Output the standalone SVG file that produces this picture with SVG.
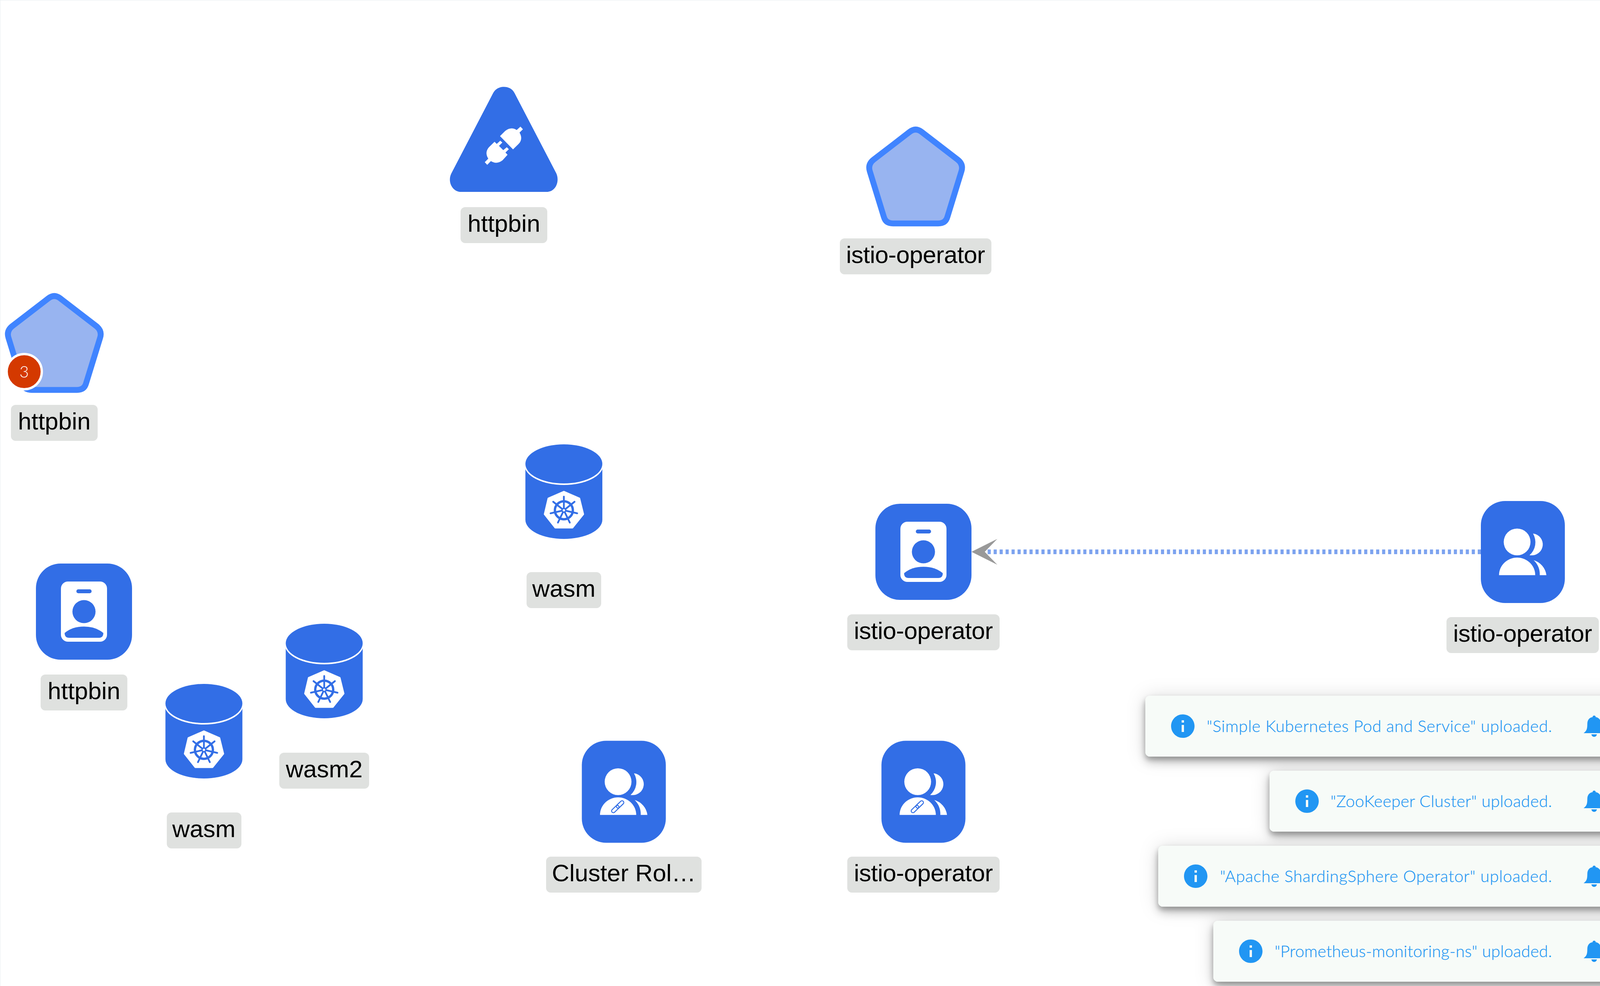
<svg xmlns="http://www.w3.org/2000/svg" xmlns:xlink="http://www.w3.org/1999/xlink" width="4137" height="2523" viewBox="0 0 4137 2523">
<style>
.blue{fill:#326ee6}
.wh{fill:#fff}
.lbl{fill:#dfe1df}
.lt{font-family:"Liberation Sans",Arial,sans-serif;font-size:62px;fill:#000;text-anchor:middle}
.pent{fill:#98b4f0;stroke:#4084ff;stroke-width:15}
.toast{fill:#f7fbf8}
.tt{font-family:Lato,"Open Sans",sans-serif;font-weight:300;font-size:42px;fill:#2196f3;stroke:#2196f3;stroke-width:.3}
.ic{fill:#2196f3}
.frame{fill:none;stroke:#e9eef2;stroke-width:2}
.edge{fill:none;stroke:#7da3ef;stroke-width:12;stroke-dasharray:8 7.3}
.arrow{fill:#999}
</style>
<defs>
<filter id="sh" filterUnits="userSpaceOnUse" x="2700" y="1600" width="1500" height="923" color-interpolation-filters="sRGB">
<feDropShadow dx="0" dy="3" stdDeviation="24" flood-color="#000" flood-opacity=".14" result="a"/>
<feDropShadow in="SourceGraphic" dx="0" dy="14" stdDeviation="13" flood-color="#000" flood-opacity=".2" result="b"/>
<feDropShadow in="SourceGraphic" dx="0" dy="8" stdDeviation="6.600" flood-color="#000" flood-opacity=".24" result="c"/>
<feMerge><feMergeNode in="a"/><feMergeNode in="b"/><feMergeNode in="c"/></feMerge>
</filter>
<path id="pentagon" class="pent" d="M-15,12.300Q0,.7 15,12.300L107.300,83.300Q123,95.300 117.300,113.300L81.300,230Q76.700,246.700 58,246.700H-58Q-76.700,246.700 -81.300,230L-117.300,113.300Q-123,95.300 -107.300,83.300Z"/>
<g id="role">
<rect class="blue" x="-123" y="-123" width="246" height="246" rx="63"/>
<rect class="wh" x="-59" y="-77" width="118" height="154" rx="18"/>
<rect class="blue" x="-19.500" y="-57" width="39" height="10" rx="5"/>
<circle class="blue" cx="0" cy="0" r="29.600"/>
<path class="blue" d="M-49.500,54.700Q-30,38.300 0,38.300Q30,38.300 49.500,54.700Q49.500,67 38,67H-38Q-49.500,67 -49.500,54.700Z"/>
</g>
<g id="group">
<rect class="blue" x="-107.500" y="-130.500" width="215" height="261" rx="62"/>
<circle class="wh" cx="-14.700" cy="-25.700" r="34.300"/>
<path class="wh" d="M-61,59.300A46.300,45 0 0 1 31.700,59.300Z"/>
<path class="wh" d="M26,-47.300A28,28 0 0 1 20,8.400L17,8.300A44,44 0 0 0 26,-47.300Z"/>
<path class="wh" d="M27.700,21A46,46 0 0 1 60.300,59.300H43.300A50,50 0 0 0 27.700,21Z"/>
</g>
<g id="cyl">
<path class="blue" d="M-98.500,63V193A98.500,49 0 0 0 98.500,193V63Z"/>
<ellipse class="wh" cx="0" cy="52" rx="101" ry="52"/>
<ellipse class="blue" cx="0" cy="50" rx="98.500" ry="50"/>
<path class="wh" stroke="#fff" stroke-width="4" stroke-linejoin="round" d="M0,121L39.700,138.300L49.700,178.700L22,213.300H-22L-49.300,178.700L-39.700,138.300Z"/>
<g transform="translate(0,168.700)" fill="none" stroke="#326ee6">
<circle r="23" stroke-width="6"/>
<g stroke-width="4.500" stroke-linecap="round">
<path d="M0,0V-35"/><path d="M0,0V-35" transform="rotate(51.430)"/><path d="M0,0V-35" transform="rotate(102.860)"/><path d="M0,0V-35" transform="rotate(154.290)"/><path d="M0,0V-35" transform="rotate(205.710)"/><path d="M0,0V-35" transform="rotate(257.140)"/><path d="M0,0V-35" transform="rotate(308.570)"/>
</g>
<circle r="6.500" fill="#326ee6" stroke="none"/>
<circle r="3" fill="#fff" stroke="none"/>
</g>
</g>
<g id="link" fill="none" stroke="#326ee6" stroke-width="2.500" transform="translate(-15.700,38.300) rotate(-44)">
<rect x="-20" y="-4.500" width="23" height="9" rx="4.500"/>
<rect x="-3" y="-4.500" width="23" height="9" rx="4.500"/>
</g>
<path id="info" class="ic" d="M12 2C6.480 2 2 6.480 2 12s4.480 10 10 10 10-4.480 10-10S17.520 2 12 2zm1 15h-2v-6h2v6zm0-8h-2V7h2v2z" transform="scale(3) translate(-12,-12)"/>
<path id="bell" class="ic" d="M0,0C-2.500,0 -4,1.500 -4,4C-12,5 -17.500,11 -17.500,22C-17.500,34 -19,39 -27,45H27C19,39 17.500,34 17.500,22C17.500,11 12,5 4,4C4,1.500 2.500,0 0,0ZM-7,48A7,6.500 0 0 0 7,48Z"/>
</defs>

<rect width="4137" height="2523" fill="#fff"/>

<g id="connectors">
<path class="edge" d="M3791,1412H2525"/>
<path class="arrow" d="M2487,1412L2553,1379L2521,1412L2553,1445Z"/>
</g>

<g id="node-httpbin-triangle">
<g transform="translate(1100,180) scale(.33333)">
<path class="blue" d="M487,175C505,140 540,127 570,127C600,127 635,140 652,175L972,790C1000,850 970,933 897,933H242C170,933 135,850 167,790Z"/>
<path class="wh" d="M540,505L580,465Q625,430 668,458L697,432L716,452L690,478Q720,530 680,568L640,607Z"/>
<path class="wh" d="M498,548L515,565L542,540L558,554L532,580L565,613L592,590L608,605L582,631L598,648L560,690Q515,725 470,697L442,725L423,705L450,678Q420,630 455,590Z"/>
</g>
<rect class="lbl" x="1179" y="530" width="222" height="92" rx="12"/>
<text class="lt" x="1290" y="593">httpbin</text>
</g>

<g id="node-istio-operator-pentagon">
<use href="#pentagon" x="2344" y="325"/>
<rect class="lbl" x="2150" y="610" width="388" height="92" rx="12"/>
<text class="lt" x="2344" y="673" textLength="356">istio-operator</text>
</g>

<g id="node-httpbin-pentagon">
<use href="#pentagon" x="139" y="751"/>
<circle cx="62" cy="951" r="45" fill="#d43900" stroke="#fff" stroke-width="6"/>
<text x="62" y="966" text-anchor="middle" font-family="Lato,sans-serif" font-weight="300" font-size="41" fill="#fff">3</text>
<rect class="lbl" x="28" y="1036" width="222" height="92" rx="12"/>
<text class="lt" x="139" y="1099">httpbin</text>
</g>

<g id="node-wasm-1">
<use href="#cyl" x="1443.500" y="1137"/>
<rect class="lbl" x="1348" y="1464" width="191" height="92" rx="12"/>
<text class="lt" x="1443.500" y="1527">wasm</text>
</g>

<g id="node-istio-operator-role">
<use href="#role" x="2364" y="1412"/>
<rect class="lbl" x="2169" y="1572" width="390" height="92" rx="12"/>
<text class="lt" x="2364" y="1635" textLength="356">istio-operator</text>
</g>

<g id="node-istio-operator-group">
<use href="#group" x="3898.500" y="1412.500"/>
<rect class="lbl" x="3703" y="1579" width="390" height="92" rx="12"/>
<text class="lt" x="3898" y="1642" textLength="356">istio-operator</text>
</g>

<g id="node-httpbin-role">
<use href="#role" x="215" y="1565"/>
<rect class="lbl" x="104" y="1726" width="222" height="92" rx="12"/>
<text class="lt" x="215" y="1789">httpbin</text>
</g>

<g id="node-wasm2">
<use href="#cyl" x="830" y="1596"/>
<rect class="lbl" x="715" y="1926" width="230" height="92" rx="12"/>
<text class="lt" x="830" y="1989">wasm2</text>
</g>

<g id="node-wasm-2">
<use href="#cyl" x="522" y="1750"/>
<rect class="lbl" x="427" y="2079" width="191" height="92" rx="12"/>
<text class="lt" x="522" y="2142">wasm</text>
</g>

<g id="node-cluster-role">
<use href="#group" x="1597" y="2026"/>
<use href="#link" x="1597" y="2026"/>
<rect class="lbl" x="1398" y="2192" width="398" height="92" rx="12"/>
<text class="lt" x="1597" y="2255">Cluster Rol…</text>
</g>

<g id="node-istio-operator-cluster-role">
<use href="#group" x="2364" y="2026"/>
<use href="#link" x="2364" y="2026"/>
<rect class="lbl" x="2169" y="2192" width="390" height="92" rx="12"/>
<text class="lt" x="2364" y="2255" textLength="356">istio-operator</text>
</g>

<g id="toast-shadows" filter="url(#sh)">
<rect class="toast" x="2932" y="1780" width="1230" height="156" rx="12"/>
<rect class="toast" x="3250" y="1972" width="912" height="156" rx="12"/>
<rect class="toast" x="2965" y="2164" width="1197" height="156" rx="12"/>
<rect class="toast" x="3106" y="2356" width="1056" height="156" rx="12"/>
</g>
<rect class="frame" x="0" y="0" width="4136" height="2530"/>

<g id="toast-1">
<rect class="toast" x="2932" y="1780" width="1230" height="156" rx="12"/>
<use href="#info" x="3028" y="1858"/>
<text class="tt" x="3089" y="1873" textLength="884">"Simple Kubernetes Pod and Service" uploaded.</text>
<use href="#bell" x="4081" y="1831"/>
</g>
<g id="toast-2">
<rect class="toast" x="3250" y="1972" width="912" height="156" rx="12"/>
<use href="#info" x="3346" y="2050"/>
<text class="tt" x="3406" y="2065" textLength="567">"ZooKeeper Cluster" uploaded.</text>
<use href="#bell" x="4081" y="2023"/>
</g>
<g id="toast-3">
<rect class="toast" x="2965" y="2164" width="1197" height="156" rx="12"/>
<use href="#info" x="3061" y="2242"/>
<text class="tt" x="3123" y="2257" textLength="850">"Apache ShardingSphere Operator" uploaded.</text>
<use href="#bell" x="4081" y="2215"/>
</g>
<g id="toast-4">
<rect class="toast" x="3106" y="2356" width="1056" height="156" rx="12"/>
<use href="#info" x="3202" y="2434"/>
<text class="tt" x="3263" y="2449" textLength="710">"Prometheus-monitoring-ns" uploaded.</text>
<use href="#bell" x="4081" y="2407"/>
</g>
</svg>
